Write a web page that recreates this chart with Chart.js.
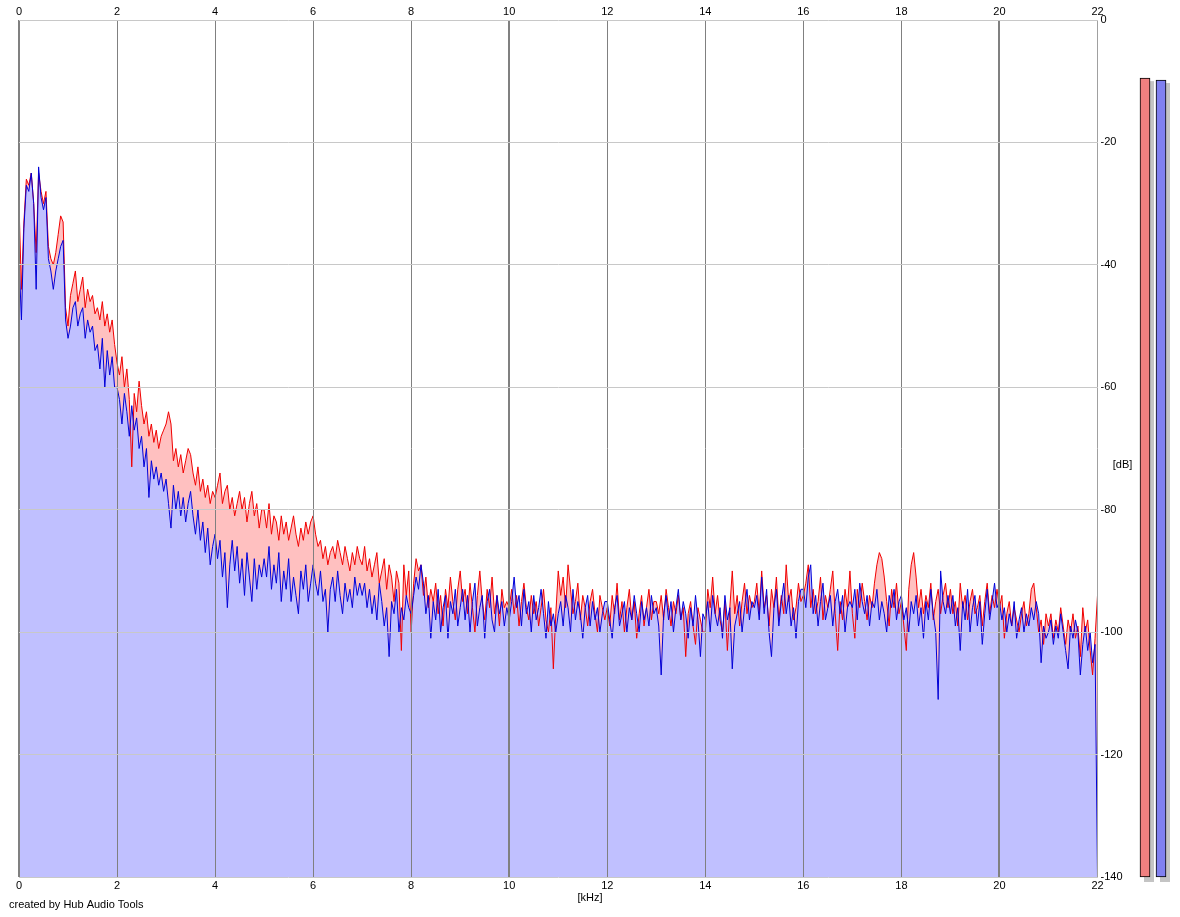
<!DOCTYPE html>
<html>
<head>
<meta charset="utf-8">
<title>Spectrum</title>
<script src="https://cdn.jsdelivr.net/npm/chart.js@4.4.0/dist/chart.umd.min.js"></script>
<style>
  html, body { margin: 0; padding: 0; background: #fff; }
  #wrap { position: relative; width: 1180px; height: 917px; }
  #wrap canvas { position: absolute; left: 0; top: 0; }
</style>
</head>
<body>
<div id="wrap">
  <canvas id="levels" width="1180" height="917"></canvas>
  <canvas id="spectrum" width="1180" height="917"></canvas>
</div>
<script>
// spectrum is sampled every 0.05 kHz, 0 .. 22 kHz
const freqStepKHz = 0.05;

// left channel (red), dB
const leftDb = [
  -30,-44,-33,-26,-27,-25,-30,-38,-25,-28,-30,-28,-37,-39,-40,-38,-35,-32,-33,-47,
  -50,-45,-43,-41,-46,-44,-42,-47,-44,-46,-45,-48,-47,-49,-46,-50,-48,-51,-49,-53,
  -56,-58,-55,-60,-57,-62,-73,-61,-64,-59,-63,-66,-64,-68,-66,-69,-67,-70,-68,-67,
  -66,-64,-66,-72,-70,-73,-71,-74,-72,-70,-71,-74,-76,-73,-77,-75,-78,-76,-79,-77,
  -78,-76,-74,-79,-77,-76,-80,-78,-81,-79,-77,-80,-78,-82,-79,-77,-81,-79,-83,-80,
  -80,-83,-79,-84,-81,-82,-85,-81,-84,-82,-85,-83,-81,-84,-86,-83,-85,-82,-84,-82,
  -81,-84,-86,-85,-88,-86,-89,-87,-86,-88,-85,-87,-89,-86,-88,-90,-87,-89,-86,-88,
  -89,-86,-90,-88,-91,-89,-87,-92,-90,-88,-93,-89,-91,-95,-90,-92,-103,-89,-94,-90,
  -100,-92,-88,-90,-89,-94,-91,-96,-93,-95,-92,-97,-94,-99,-93,-96,-91,-95,-98,-93,
  -90,-95,-93,-97,-92,-96,-100,-94,-90,-95,-98,-93,-96,-91,-97,-94,-99,-93,-96,-95,
  -96,-93,-97,-94,-99,-95,-92,-96,-98,-94,-97,-95,-99,-96,-93,-98,-100,-96,-106,-97,
  -90,-94,-91,-96,-89,-93,-97,-95,-92,-98,-94,-96,-99,-95,-93,-97,-100,-94,-96,-98,
  -96,-99,-94,-97,-92,-98,-95,-100,-96,-93,-98,-95,-101,-97,-94,-99,-96,-93,-98,-95,
  -95,-97,-94,-98,-93,-96,-99,-95,-97,-94,-98,-96,-104,-97,-95,-99,-102,-96,-98,-100,
  -100,-93,-96,-91,-97,-94,-98,-100,-95,-103,-96,-90,-97,-94,-99,-95,-92,-97,-94,-96,
  -95,-92,-97,-90,-96,-94,-99,-93,-96,-91,-98,-94,-97,-89,-95,-93,-98,-96,-92,-95,
  -94,-92,-89,-96,-93,-97,-95,-91,-98,-94,-96,-93,-90,-97,-103,-95,-98,-93,-96,-90,
  -97,-101,-93,-96,-92,-95,-98,-94,-96,-92,-89,-87,-88,-91,-95,-99,-93,-96,-92,-97,
  -95,-99,-103,-93,-89,-87,-91,-96,-93,-97,-94,-96,-92,-98,-95,-93,-97,-94,-92,-96,
  -93,-97,-95,-99,-92,-96,-94,-98,-95,-93,-97,-96,-94,-99,-95,-92,-97,-94,-96,-93,
  -96,-94,-101,-97,-95,-99,-96,-98,-100,-97,-95,-99,-97,-93,-92,-96,-100,-98,-102,-97,
  -99,-97,-101,-98,-100,-96,-99,-102,-98,-100,-97,-101,-99,-104,-96,-100,-98,-103,-107,-101,
  -94
];

// right channel (blue), dB
const rightDb = [
  -39,-49,-34,-27,-28,-25,-30,-44,-24,-29,-31,-29,-39,-41,-44,-41,-39,-37,-36,-49,
  -52,-50,-47,-46,-50,-48,-47,-52,-49,-51,-50,-54,-53,-57,-52,-60,-54,-58,-55,-60,
  -60,-62,-66,-61,-64,-68,-63,-67,-65,-70,-68,-73,-70,-78,-72,-75,-73,-76,-74,-77,
  -75,-79,-83,-76,-80,-77,-81,-78,-82,-79,-77,-81,-84,-80,-85,-82,-87,-83,-89,-86,
  -84,-88,-85,-91,-87,-96,-89,-85,-90,-86,-92,-88,-94,-87,-91,-95,-88,-93,-89,-91,
  -88,-91,-86,-93,-89,-92,-87,-95,-90,-93,-88,-95,-91,-94,-97,-90,-93,-89,-95,-92,
  -89,-92,-94,-90,-95,-93,-100,-93,-91,-95,-90,-94,-97,-92,-95,-93,-96,-91,-94,-92,
  -94,-92,-96,-93,-97,-94,-98,-92,-95,-99,-96,-104,-95,-97,-93,-100,-96,-98,-94,-96,
  -97,-94,-91,-93,-89,-92,-97,-94,-101,-95,-98,-93,-100,-96,-94,-101,-95,-97,-93,-99,
  -96,-93,-98,-94,-100,-95,-92,-99,-96,-94,-101,-95,-93,-98,-100,-94,-97,-95,-99,-96,
  -98,-95,-91,-96,-94,-99,-93,-97,-95,-100,-94,-98,-96,-93,-97,-101,-95,-99,-97,-100,
  -97,-95,-99,-94,-96,-100,-93,-98,-95,-97,-101,-96,-94,-99,-95,-98,-96,-100,-97,-95,
  -95,-98,-101,-96,-94,-99,-97,-95,-100,-96,-98,-94,-97,-100,-95,-98,-96,-99,-94,-97,
  -96,-99,-107,-97,-94,-98,-95,-100,-96,-93,-98,-95,-97,-101,-96,-99,-94,-98,-104,-97,
  -98,-95,-100,-94,-97,-99,-96,-101,-94,-98,-96,-106,-99,-97,-95,-100,-96,-93,-98,-95,
  -96,-94,-98,-91,-97,-93,-100,-104,-96,-93,-99,-95,-92,-97,-94,-99,-96,-101,-95,-93,
  -93,-96,-91,-89,-97,-94,-99,-95,-92,-98,-96,-94,-99,-95,-93,-97,-94,-100,-96,-95,
  -96,-93,-98,-92,-95,-97,-94,-99,-95,-96,-93,-98,-95,-97,-100,-94,-96,-93,-98,-95,
  -94,-98,-96,-100,-95,-97,-94,-99,-96,-101,-95,-98,-93,-97,-100,-111,-90,-95,-97,-94,
  -97,-94,-99,-96,-103,-95,-98,-93,-100,-96,-94,-99,-95,-102,-97,-93,-98,-95,-92,-96,
  -95,-98,-96,-100,-97,-99,-95,-101,-98,-96,-100,-97,-99,-96,-98,-95,-97,-105,-99,-101,
  -100,-98,-102,-99,-101,-97,-100,-103,-106,-99,-101,-98,-100,-107,-102,-99,-103,-100,-105,-102,
  -140
];

const kHzTicks = [0, 2, 4, 6, 8, 10, 12, 14, 16, 18, 20, 22];
const dbTicks = [0, -20, -40, -60, -80, -100, -120, -140];

// peak meters on the right
const channels = ['L', 'R'];
const peakDb = [-9.5, -9.8];

Chart.defaults.font.family = '"Liberation Sans", Arial, sans-serif';
Chart.defaults.font.size = 11;
Chart.defaults.color = '#000';

const toPoints = arr => arr.map((v, i) => ({ x: +(i * freqStepKHz).toFixed(2), y: v }));
const useTicks = list => scale => { scale.ticks = list.map(v => ({ value: v })); };

const captions = {
  id: 'captions',
  afterDraw(chart) {
    const { ctx, chartArea } = chart;
    ctx.save();
    ctx.font = '11px "Liberation Sans", Arial, sans-serif';
    ctx.fillStyle = '#000';
    ctx.textBaseline = 'middle';
    ctx.textAlign = 'center';
    ctx.fillText('[kHz]', chart.width / 2, 898);
    ctx.fillText('[dB]', 1122.5, (chartArea.top + chartArea.bottom) / 2 + 16);
    ctx.textAlign = 'left';
    ctx.fillText('created by Hub Audio Tools', 9, 905);
    ctx.restore();
  }
};

new Chart(document.getElementById('spectrum'), {
  type: 'line',
  data: {
    datasets: [
      {
        label: 'R',
        data: toPoints(rightDb),
        borderColor: '#0000d8',
        backgroundColor: '#c0c0ff',
        fill: 'start',
        borderWidth: 1,
        pointRadius: 0,
        tension: 0
      },
      {
        label: 'L',
        data: toPoints(leftDb),
        borderColor: '#f00000',
        backgroundColor: '#ffc0c0',
        fill: 'start',
        borderWidth: 1,
        pointRadius: 0,
        tension: 0
      }
    ]
  },
  options: {
    responsive: false,
    animation: false,
    devicePixelRatio: 1,
    layout: { padding: { left: 19, right: 0, top: 0, bottom: 0 } },
    plugins: {
      legend: { display: false },
      tooltip: { enabled: false },
      filler: { drawTime: 'beforeDatasetsDraw' }
    },
    scales: {
      x: {
        type: 'linear',
        position: 'bottom',
        min: 0,
        max: 22,
        border: { display: false },
        grid: {
          z: 1,
          drawTicks: false,
          color: c => (c.tick && c.tick.value === 22 ? '#a0a0a0' : '#808080'),
          lineWidth: c => (c.tick && [0, 10, 20].includes(c.tick.value) ? 2 : 1)
        },
        ticks: { padding: 2, maxRotation: 0, autoSkip: false },
        afterBuildTicks: useTicks(kHzTicks),
        afterFit: s => { s.height = 40; }
      },
      xTop: {
        type: 'linear',
        position: 'top',
        min: 0,
        max: 22,
        border: { display: false },
        grid: { display: false, drawTicks: false },
        ticks: { padding: 1, maxRotation: 0, autoSkip: false },
        afterBuildTicks: useTicks(kHzTicks),
        afterFit: s => { s.height = 20; }
      },
      y: {
        type: 'linear',
        position: 'right',
        min: -140,
        max: 0,
        border: { display: false },
        grid: { z: 1, drawTicks: false, color: '#c8c8c8' },
        ticks: { padding: 3 },
        afterBuildTicks: useTicks(dbTicks),
        afterFit: s => { s.width = 82.5; }
      }
    }
  },
  plugins: [captions]
});

const meterShadow = {
  id: 'meterShadow',
  beforeDatasetsDraw(chart) {
    const ctx = chart.ctx;
    ctx.save();
    ctx.fillStyle = '#c4c4c4';
    chart.getDatasetMeta(0).data.forEach(bar => {
      const { x, y, base, width } = bar.getProps(['x', 'y', 'base', 'width'], true);
      ctx.fillRect(x - width / 2 + 4, y + 5, width, base - y - 2);
    });
    ctx.restore();
  }
};

new Chart(document.getElementById('levels'), {
  type: 'bar',
  data: {
    labels: channels,
    datasets: [{
      data: peakDb.map(v => [-140, v]),
      backgroundColor: ['#f08080', '#8080f0'],
      borderColor: '#000',
      borderWidth: 1,
      borderSkipped: false,
      barThickness: 10,
      clip: false
    }]
  },
  options: {
    responsive: false,
    animation: false,
    devicePixelRatio: 1,
    layout: { padding: { left: 1137, right: 11, top: 20, bottom: 40 } },
    plugins: { legend: { display: false }, tooltip: { enabled: false } },
    scales: {
      x: { display: false },
      y: { display: false, min: -140, max: 0 }
    }
  },
  plugins: [meterShadow]
});
</script>
</body>
</html>
